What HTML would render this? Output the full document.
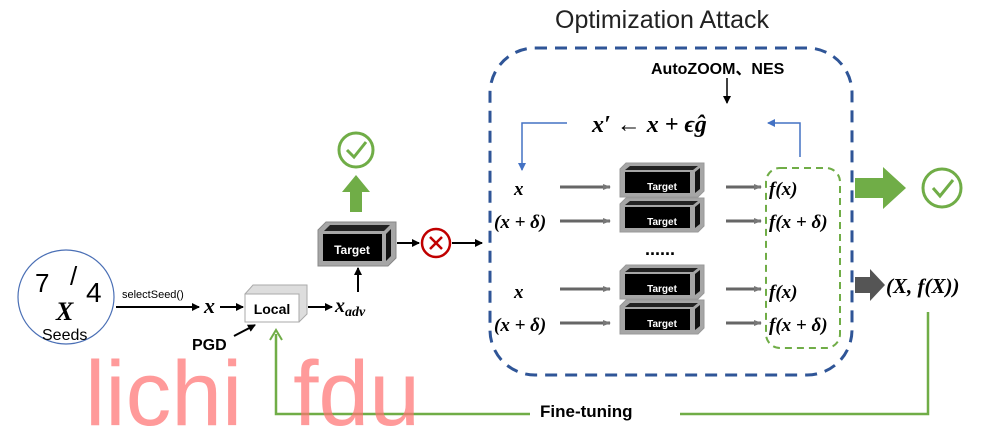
<!DOCTYPE html>
<html><head><meta charset="utf-8"><style>
html,body{margin:0;padding:0;background:#fff;}
svg{display:block;font-family:"Liberation Sans","Noto Sans CJK SC",sans-serif;}
.m{font-family:"Liberation Serif",serif;font-weight:bold;font-style:italic;}
</style></head><body>
<svg width="999" height="432" viewBox="0 0 999 432" xmlns="http://www.w3.org/2000/svg">
<defs>
<marker id="ab" markerWidth="8" markerHeight="8" refX="7" refY="4" orient="auto" markerUnits="userSpaceOnUse"><path d="M0,0 L8,4 L0,8 z" fill="#000"/></marker>
<marker id="abl" markerWidth="8" markerHeight="8" refX="7" refY="4" orient="auto" markerUnits="userSpaceOnUse"><path d="M0,0 L8,4 L0,8 z" fill="#4472c4"/></marker>
<marker id="ag" markerWidth="8" markerHeight="8" refX="7" refY="4" orient="auto" markerUnits="userSpaceOnUse"><path d="M0,1 L8,4 L0,7 z" fill="#777"/></marker>
<g id="tg">
<polygon points="0,8 8,0 78,0 78,36 70,44 0,44" fill="#a6a6a6" stroke="#888"/>
<polygon points="6,9 12,3 72,3 66,9" fill="#222"/>
<rect x="5" y="12" width="59" height="27" fill="#000"/>
<polygon points="68,12 73,7 73,34 68,39" fill="#111"/>
</g>
<g id="ts">
<polygon points="0,6 6,0 84,0 84,28 78,34 0,34" fill="#a6a6a6" stroke="#999"/>
<polygon points="5,7 10,3 78,3 73,7" fill="#222"/>
<rect x="5" y="9" width="65" height="21" fill="#000"/>
<polygon points="75,9 80,5 80,26 75,30" fill="#111"/>
</g>
</defs>

<!-- Seeds -->
<ellipse cx="66" cy="297" rx="48" ry="47" fill="none" stroke="#4a6fb5" stroke-width="1.2"/>
<text x="35" y="292" font-size="26" font-family="Liberation Sans">7</text>
<text x="70" y="285" font-size="26">/</text>
<text x="86" y="302" font-size="28">4</text>
<text x="56" y="320" font-size="26" class="m">X</text>
<text x="42" y="340" font-size="16">Seeds</text>
<text x="122" y="298" font-size="11">selectSeed()</text>
<line x1="116" y1="307" x2="199" y2="307" stroke="#000" stroke-width="2" marker-end="url(#ab)"/>
<text x="204" y="313" font-size="22" class="m">x</text>
<line x1="220" y1="307" x2="243" y2="307" stroke="#000" stroke-width="2" marker-end="url(#ab)"/>
<!-- Local -->
<polygon points="245,294 253,285 307,285 307,314 299,322" fill="#ddd" stroke="#aaa"/>
<rect x="245" y="294" width="54" height="28" fill="#fff" stroke="#aaa"/>
<text x="272" y="314" font-size="14" font-weight="bold" text-anchor="middle">Local</text>
<text x="192" y="350" font-size="16" font-weight="bold">PGD</text>
<line x1="234" y1="336" x2="255" y2="325" stroke="#000" stroke-width="2" marker-end="url(#ab)"/>
<line x1="308" y1="307" x2="332" y2="307" stroke="#000" stroke-width="2" marker-end="url(#ab)"/>
<text x="335" y="312" font-size="20" class="m">x<tspan font-size="14" dy="4">adv</tspan></text>
<line x1="358" y1="292" x2="358" y2="268" stroke="#000" stroke-width="2" marker-end="url(#ab)"/>
<!-- Target top -->
<use href="#tg" x="318" y="222"/>
<text x="352" y="254" font-size="12" font-weight="bold" fill="#fff" text-anchor="middle">Target</text>
<polygon points="350,212 350,192 342,192 356,175 370,192 362,192 362,212" fill="#70ad47"/>
<circle cx="356" cy="150" r="17" fill="none" stroke="#70ad47" stroke-width="3"/>
<path d="M347,150 L354,157 L366,142" fill="none" stroke="#70ad47" stroke-width="3"/>
<line x1="397" y1="243" x2="419" y2="243" stroke="#000" stroke-width="2" marker-end="url(#ab)"/>
<circle cx="436" cy="243" r="14" fill="none" stroke="#c00000" stroke-width="2.5"/>
<path d="M430,237 L442,249 M442,237 L430,249" stroke="#c00000" stroke-width="2.5"/>
<line x1="452" y1="243" x2="482" y2="243" stroke="#000" stroke-width="2" marker-end="url(#ab)"/>

<!-- Optimization box -->
<text x="662" y="28" font-size="25" text-anchor="middle" fill="#222">Optimization Attack</text>
<rect x="490" y="48" width="362" height="327" rx="45" fill="none" stroke="#2f5597" stroke-width="3" stroke-dasharray="12,8"/>
<text x="651" y="74" font-size="16" font-weight="bold">AutoZOOM、NES</text>
<line x1="727" y1="78" x2="727" y2="103" stroke="#000" stroke-width="1.5" marker-end="url(#ab)"/>
<text x="592" y="132" font-size="24" class="m">x′ <tspan font-style="normal" font-weight="normal">←</tspan> x + ϵĝ</text>
<polyline points="567,123 522,123 522,170" fill="none" stroke="#4472c4" stroke-width="1.5" marker-end="url(#abl)"/>
<polyline points="800,157 800,123 768,123" fill="none" stroke="#4472c4" stroke-width="1.5" marker-end="url(#abl)"/>
<rect x="766" y="168" width="74" height="180" rx="14" fill="none" stroke="#70ad47" stroke-width="2" stroke-dasharray="7,5"/>

<g font-size="19">
<text x="514" y="195" class="m">x</text>
<text x="494" y="228" class="m">(x + δ)</text>
<text x="514" y="298" class="m">x</text>
<text x="494" y="331" class="m">(x + δ)</text>
<text x="769" y="195" class="m">f(x)</text>
<text x="769" y="228" class="m">f(x + δ)</text>
<text x="769" y="298" class="m">f(x)</text>
<text x="769" y="331" class="m">f(x + δ)</text>
</g>
<g stroke="#666" stroke-width="3">
<line x1="560" y1="187" x2="610" y2="187" marker-end="url(#ag)"/>
<line x1="560" y1="221" x2="610" y2="221" marker-end="url(#ag)"/>
<line x1="560" y1="289" x2="610" y2="289" marker-end="url(#ag)"/>
<line x1="560" y1="323" x2="610" y2="323" marker-end="url(#ag)"/>
<line x1="726" y1="187" x2="761" y2="187" marker-end="url(#ag)"/>
<line x1="726" y1="221" x2="761" y2="221" marker-end="url(#ag)"/>
<line x1="726" y1="289" x2="761" y2="289" marker-end="url(#ag)"/>
<line x1="726" y1="323" x2="761" y2="323" marker-end="url(#ag)"/>
</g>
<use href="#ts" x="620" y="163"/>
<use href="#ts" x="620" y="198"/>
<use href="#ts" x="620" y="265"/>
<use href="#ts" x="620" y="300"/>
<g font-size="10" font-weight="bold" fill="#fff" text-anchor="middle">
<text x="662" y="190">Target</text>
<text x="662" y="225">Target</text>
<text x="662" y="292">Target</text>
<text x="662" y="327">Target</text>
</g>
<text x="660" y="255" font-size="18" font-weight="bold" text-anchor="middle">......</text>

<!-- right side -->
<polygon points="855,178 883,178 883,167 906,188 883,209 883,198 855,198" fill="#70ad47"/>
<circle cx="942" cy="188" r="19" fill="none" stroke="#70ad47" stroke-width="3"/>
<path d="M933,188 L940,196 L953,180" fill="none" stroke="#70ad47" stroke-width="3"/>
<polygon points="855,277 870,277 870,269 885,285 870,301 870,293 855,293" fill="#555"/>
<text x="886" y="293" font-size="21" class="m">(X, f(X))</text>

<!-- fine tuning -->
<polyline points="928,312 928,414 680,414" fill="none" stroke="#70ad47" stroke-width="2.5"/>
<polyline points="530,414 276,414 276,334" fill="none" stroke="#70ad47" stroke-width="2.5"/>
<path d="M270,340 L276,330 L282,340" fill="none" stroke="#70ad47" stroke-width="2"/>
<text x="540" y="417" font-size="17" font-weight="bold">Fine-tuning</text>

<text x="85" y="425" font-size="92" fill="#ff6f6f" fill-opacity="0.7" textLength="335" lengthAdjust="spacingAndGlyphs">lichi_fdu</text>
</svg>
</body></html>
